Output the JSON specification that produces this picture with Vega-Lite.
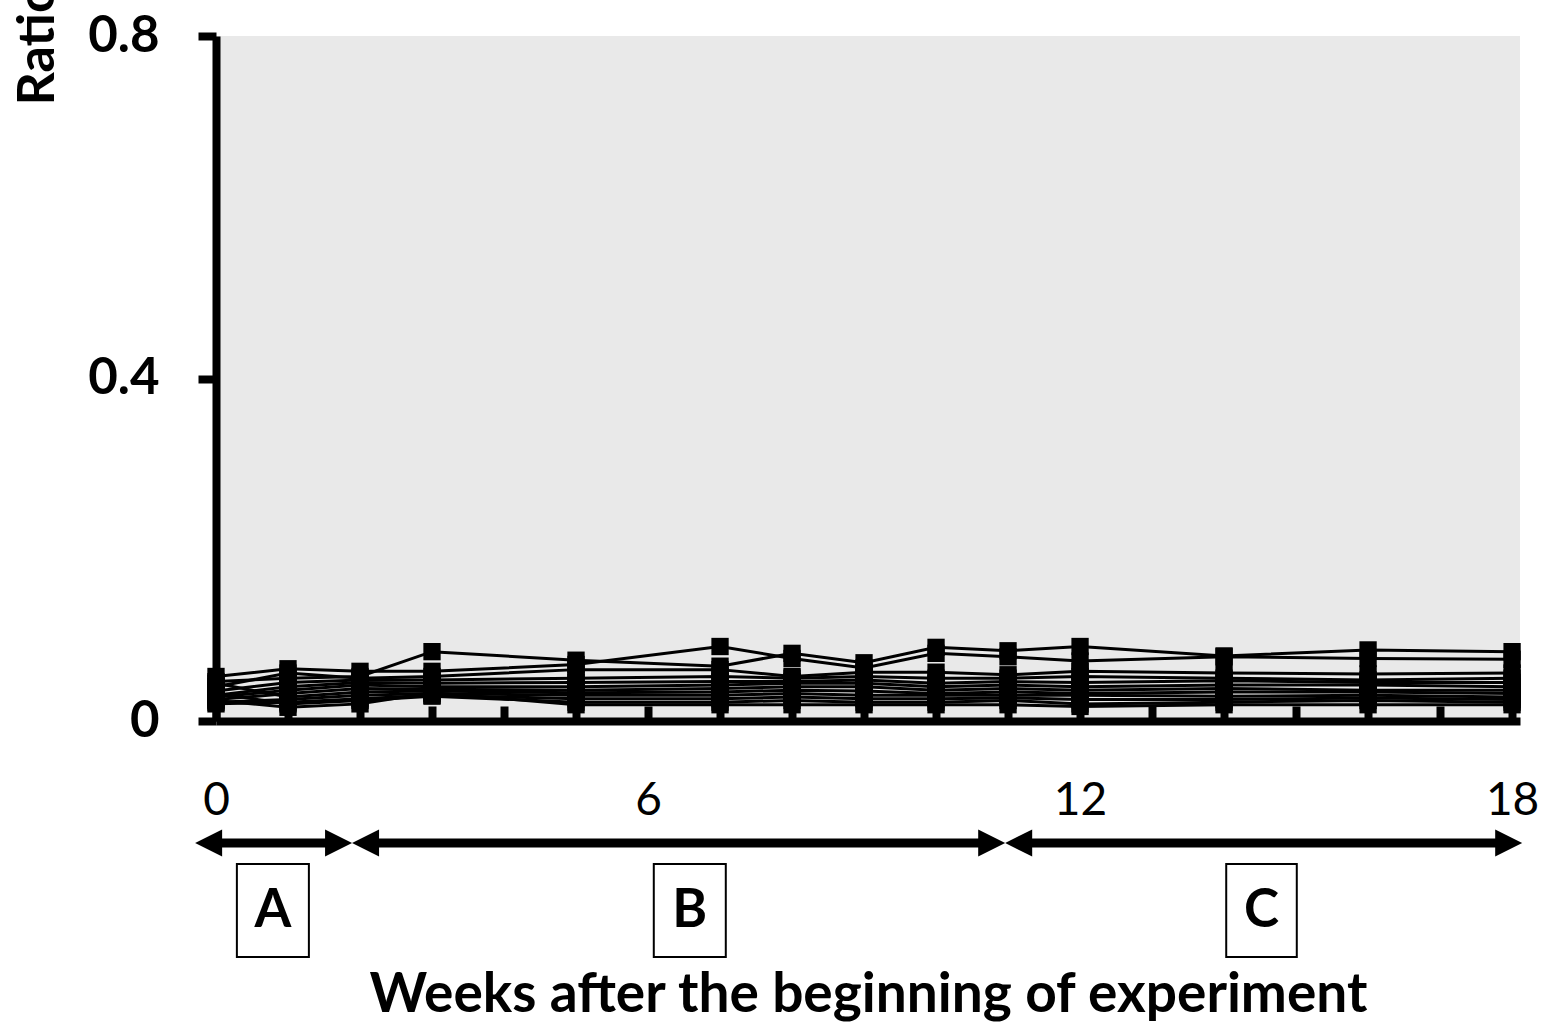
{
  "$schema": "https://vega.github.io/schema/vega-lite/v6.json",
  "autosize": {"type": "none"},
  "width": 1304,
  "height": 685,
  "padding": {"left": 216, "top": 36, "right": 22, "bottom": 301},
  "background": "white",
  "config": {
    "font": "Lato",
    "view": {"fill": "#e9e9e9", "stroke": null},
    "axis": {"domainColor": "black", "tickColor": "black", "labelColor": "black", "titleColor": "black", "grid": false}
  },
  "datasets": {
    "series": [
      {"week": 0, "s": "S1", "ratio": 0.046}, {"week": 1, "s": "S1", "ratio": 0.050}, {"week": 2, "s": "S1", "ratio": 0.052}, {"week": 3, "s": "S1", "ratio": 0.081}, {"week": 5, "s": "S1", "ratio": 0.071}, {"week": 7, "s": "S1", "ratio": 0.064}, {"week": 8, "s": "S1", "ratio": 0.079}, {"week": 9, "s": "S1", "ratio": 0.068}, {"week": 10, "s": "S1", "ratio": 0.086}, {"week": 11, "s": "S1", "ratio": 0.082}, {"week": 12, "s": "S1", "ratio": 0.087}, {"week": 14, "s": "S1", "ratio": 0.076}, {"week": 16, "s": "S1", "ratio": 0.083}, {"week": 18, "s": "S1", "ratio": 0.081},
      {"week": 0, "s": "S2", "ratio": 0.052}, {"week": 1, "s": "S2", "ratio": 0.061}, {"week": 2, "s": "S2", "ratio": 0.058}, {"week": 3, "s": "S2", "ratio": 0.058}, {"week": 5, "s": "S2", "ratio": 0.066}, {"week": 7, "s": "S2", "ratio": 0.087}, {"week": 8, "s": "S2", "ratio": 0.073}, {"week": 9, "s": "S2", "ratio": 0.062}, {"week": 10, "s": "S2", "ratio": 0.079}, {"week": 11, "s": "S2", "ratio": 0.075}, {"week": 12, "s": "S2", "ratio": 0.070}, {"week": 14, "s": "S2", "ratio": 0.075}, {"week": 16, "s": "S2", "ratio": 0.073}, {"week": 18, "s": "S2", "ratio": 0.072},
      {"week": 0, "s": "S3", "ratio": 0.040}, {"week": 1, "s": "S3", "ratio": 0.056}, {"week": 2, "s": "S3", "ratio": 0.050}, {"week": 3, "s": "S3", "ratio": 0.052}, {"week": 5, "s": "S3", "ratio": 0.060}, {"week": 7, "s": "S3", "ratio": 0.060}, {"week": 8, "s": "S3", "ratio": 0.052}, {"week": 9, "s": "S3", "ratio": 0.057}, {"week": 10, "s": "S3", "ratio": 0.057}, {"week": 11, "s": "S3", "ratio": 0.054}, {"week": 12, "s": "S3", "ratio": 0.058}, {"week": 14, "s": "S3", "ratio": 0.056}, {"week": 16, "s": "S3", "ratio": 0.055}, {"week": 18, "s": "S3", "ratio": 0.056},
      {"week": 0, "s": "S4", "ratio": 0.035}, {"week": 1, "s": "S4", "ratio": 0.045}, {"week": 2, "s": "S4", "ratio": 0.048}, {"week": 3, "s": "S4", "ratio": 0.048}, {"week": 5, "s": "S4", "ratio": 0.050}, {"week": 7, "s": "S4", "ratio": 0.052}, {"week": 8, "s": "S4", "ratio": 0.050}, {"week": 9, "s": "S4", "ratio": 0.052}, {"week": 10, "s": "S4", "ratio": 0.050}, {"week": 11, "s": "S4", "ratio": 0.050}, {"week": 12, "s": "S4", "ratio": 0.052}, {"week": 14, "s": "S4", "ratio": 0.050}, {"week": 16, "s": "S4", "ratio": 0.048}, {"week": 18, "s": "S4", "ratio": 0.050},
      {"week": 0, "s": "S5", "ratio": 0.030}, {"week": 1, "s": "S5", "ratio": 0.040}, {"week": 2, "s": "S5", "ratio": 0.045}, {"week": 3, "s": "S5", "ratio": 0.044}, {"week": 5, "s": "S5", "ratio": 0.045}, {"week": 7, "s": "S5", "ratio": 0.046}, {"week": 8, "s": "S5", "ratio": 0.046}, {"week": 9, "s": "S5", "ratio": 0.048}, {"week": 10, "s": "S5", "ratio": 0.044}, {"week": 11, "s": "S5", "ratio": 0.046}, {"week": 12, "s": "S5", "ratio": 0.045}, {"week": 14, "s": "S5", "ratio": 0.047}, {"week": 16, "s": "S5", "ratio": 0.045}, {"week": 18, "s": "S5", "ratio": 0.045},
      {"week": 0, "s": "S6", "ratio": 0.028}, {"week": 1, "s": "S6", "ratio": 0.036}, {"week": 2, "s": "S6", "ratio": 0.042}, {"week": 3, "s": "S6", "ratio": 0.040}, {"week": 5, "s": "S6", "ratio": 0.040}, {"week": 7, "s": "S6", "ratio": 0.042}, {"week": 8, "s": "S6", "ratio": 0.044}, {"week": 9, "s": "S6", "ratio": 0.044}, {"week": 10, "s": "S6", "ratio": 0.040}, {"week": 11, "s": "S6", "ratio": 0.042}, {"week": 12, "s": "S6", "ratio": 0.040}, {"week": 14, "s": "S6", "ratio": 0.042}, {"week": 16, "s": "S6", "ratio": 0.042}, {"week": 18, "s": "S6", "ratio": 0.040},
      {"week": 0, "s": "S7", "ratio": 0.025}, {"week": 1, "s": "S7", "ratio": 0.032}, {"week": 2, "s": "S7", "ratio": 0.038}, {"week": 3, "s": "S7", "ratio": 0.037}, {"week": 5, "s": "S7", "ratio": 0.036}, {"week": 7, "s": "S7", "ratio": 0.038}, {"week": 8, "s": "S7", "ratio": 0.040}, {"week": 9, "s": "S7", "ratio": 0.040}, {"week": 10, "s": "S7", "ratio": 0.036}, {"week": 11, "s": "S7", "ratio": 0.038}, {"week": 12, "s": "S7", "ratio": 0.036}, {"week": 14, "s": "S7", "ratio": 0.038}, {"week": 16, "s": "S7", "ratio": 0.036}, {"week": 18, "s": "S7", "ratio": 0.036},
      {"week": 0, "s": "S8", "ratio": 0.044}, {"week": 1, "s": "S8", "ratio": 0.028}, {"week": 2, "s": "S8", "ratio": 0.034}, {"week": 3, "s": "S8", "ratio": 0.035}, {"week": 5, "s": "S8", "ratio": 0.033}, {"week": 7, "s": "S8", "ratio": 0.034}, {"week": 8, "s": "S8", "ratio": 0.036}, {"week": 9, "s": "S8", "ratio": 0.035}, {"week": 10, "s": "S8", "ratio": 0.032}, {"week": 11, "s": "S8", "ratio": 0.034}, {"week": 12, "s": "S8", "ratio": 0.032}, {"week": 14, "s": "S8", "ratio": 0.034}, {"week": 16, "s": "S8", "ratio": 0.034}, {"week": 18, "s": "S8", "ratio": 0.032},
      {"week": 0, "s": "S9", "ratio": 0.022}, {"week": 1, "s": "S9", "ratio": 0.025}, {"week": 2, "s": "S9", "ratio": 0.030}, {"week": 3, "s": "S9", "ratio": 0.032}, {"week": 5, "s": "S9", "ratio": 0.030}, {"week": 7, "s": "S9", "ratio": 0.030}, {"week": 8, "s": "S9", "ratio": 0.032}, {"week": 9, "s": "S9", "ratio": 0.030}, {"week": 10, "s": "S9", "ratio": 0.030}, {"week": 11, "s": "S9", "ratio": 0.030}, {"week": 12, "s": "S9", "ratio": 0.030}, {"week": 14, "s": "S9", "ratio": 0.029}, {"week": 16, "s": "S9", "ratio": 0.030}, {"week": 18, "s": "S9", "ratio": 0.028},
      {"week": 0, "s": "S10", "ratio": 0.020}, {"week": 1, "s": "S10", "ratio": 0.022}, {"week": 2, "s": "S10", "ratio": 0.026}, {"week": 3, "s": "S10", "ratio": 0.030}, {"week": 5, "s": "S10", "ratio": 0.026}, {"week": 7, "s": "S10", "ratio": 0.026}, {"week": 8, "s": "S10", "ratio": 0.028}, {"week": 9, "s": "S10", "ratio": 0.026}, {"week": 10, "s": "S10", "ratio": 0.026}, {"week": 11, "s": "S10", "ratio": 0.027}, {"week": 12, "s": "S10", "ratio": 0.025}, {"week": 14, "s": "S10", "ratio": 0.025}, {"week": 16, "s": "S10", "ratio": 0.027}, {"week": 18, "s": "S10", "ratio": 0.025},
      {"week": 0, "s": "S11", "ratio": 0.032}, {"week": 1, "s": "S11", "ratio": 0.020}, {"week": 2, "s": "S11", "ratio": 0.024}, {"week": 3, "s": "S11", "ratio": 0.029}, {"week": 5, "s": "S11", "ratio": 0.022}, {"week": 7, "s": "S11", "ratio": 0.022}, {"week": 8, "s": "S11", "ratio": 0.024}, {"week": 9, "s": "S11", "ratio": 0.022}, {"week": 10, "s": "S11", "ratio": 0.022}, {"week": 11, "s": "S11", "ratio": 0.024}, {"week": 12, "s": "S11", "ratio": 0.020}, {"week": 14, "s": "S11", "ratio": 0.022}, {"week": 16, "s": "S11", "ratio": 0.024}, {"week": 18, "s": "S11", "ratio": 0.022},
      {"week": 0, "s": "S12", "ratio": 0.024}, {"week": 1, "s": "S12", "ratio": 0.016}, {"week": 2, "s": "S12", "ratio": 0.020}, {"week": 3, "s": "S12", "ratio": 0.033}, {"week": 5, "s": "S12", "ratio": 0.019}, {"week": 7, "s": "S12", "ratio": 0.019}, {"week": 8, "s": "S12", "ratio": 0.019}, {"week": 9, "s": "S12", "ratio": 0.019}, {"week": 10, "s": "S12", "ratio": 0.019}, {"week": 11, "s": "S12", "ratio": 0.019}, {"week": 12, "s": "S12", "ratio": 0.017}, {"week": 14, "s": "S12", "ratio": 0.019}, {"week": 16, "s": "S12", "ratio": 0.019}, {"week": 18, "s": "S12", "ratio": 0.019}
    ],
    "periods": [
      {"label": "A", "from": -0.29, "to": 1.89, "box1": 0.29, "box2": 1.29, "mid": 0.79},
      {"label": "B", "from": 1.89, "to": 10.96, "box1": 6.08, "box2": 7.08, "mid": 6.58},
      {"label": "C", "from": 10.96, "to": 18.14, "box1": 14.03, "box2": 15.01, "mid": 14.52}
    ]
  },
  "layer": [
    {
      "data": {"name": "series"},
      "mark": {"type": "line", "color": "black", "strokeWidth": 3},
      "encoding": {
        "x": {
          "field": "week", "type": "quantitative",
          "scale": {"domain": [0, 18.11], "nice": false, "zero": false},
          "axis": {
            "values": [0, 1, 2, 3, 4, 5, 6, 7, 8, 9, 10, 11, 12, 13, 14, 15, 16, 17, 18],
            "format": "d",
            "labelExpr": "datum.value % 6 === 0 ? datum.label : ''",
            "labelOverlap": false, "labelFlush": false,
            "domainWidth": 8, "tickWidth": 8, "tickSize": -15,
            "labelFontSize": 46, "labelFontWeight": "normal", "labelPadding": 72,
            "title": "Weeks after the beginning of experiment",
            "titleFontSize": 55, "titleFontWeight": "bold",
            "titleY": 290, "titleBaseline": "alphabetic"
          }
        },
        "y": {
          "field": "ratio", "type": "quantitative",
          "scale": {"domain": [0, 0.8], "nice": false},
          "axis": {
            "values": [0, 0.4, 0.8],
            "format": "~g",
            "labelOverlap": false, "labelFlush": false,
            "domainWidth": 8, "tickWidth": 8, "tickSize": 18,
            "labelFontSize": 51, "labelFontWeight": "bold", "labelPadding": 39,
            "title": "Ratio", "titleFontSize": 52, "titleFontWeight": "bold",
            "titleAngle": 270, "titleAlign": "left", "titleBaseline": "alphabetic",
            "titleX": -163, "titleY": 69
          }
        },
        "detail": {"field": "s"}
      }
    },
    {
      "data": {"name": "series"},
      "mark": {"type": "point", "shape": "square", "filled": true, "color": "black", "opacity": 1, "size": 300},
      "encoding": {
        "x": {"field": "week", "type": "quantitative"},
        "y": {"field": "ratio", "type": "quantitative"}
      }
    },
    {
      "data": {"name": "periods"},
      "mark": {"type": "rule", "color": "black", "strokeWidth": 9, "xOffset": 20, "x2Offset": -20},
      "encoding": {
        "x": {"field": "from", "type": "quantitative"},
        "x2": {"field": "to"},
        "y": {"datum": -0.1425, "type": "quantitative"}
      }
    },
    {
      "data": {"name": "periods"},
      "mark": {"type": "point", "shape": "M0,0L2,-1L2,1Z", "filled": true, "color": "black", "opacity": 1, "size": 729, "strokeWidth": 0},
      "encoding": {
        "x": {"field": "from", "type": "quantitative"},
        "y": {"datum": -0.1425, "type": "quantitative"}
      }
    },
    {
      "data": {"name": "periods"},
      "mark": {"type": "point", "shape": "M0,0L-2,-1L-2,1Z", "filled": true, "color": "black", "opacity": 1, "size": 729, "strokeWidth": 0},
      "encoding": {
        "x": {"field": "to", "type": "quantitative"},
        "y": {"datum": -0.1425, "type": "quantitative"}
      }
    },
    {
      "data": {"name": "periods"},
      "mark": {"type": "rect", "fill": "white", "stroke": "black", "strokeWidth": 2},
      "encoding": {
        "x": {"field": "box1", "type": "quantitative"},
        "x2": {"field": "box2"},
        "y": {"datum": -0.167, "type": "quantitative"},
        "y2": {"datum": -0.2756}
      }
    },
    {
      "data": {"name": "periods"},
      "mark": {"type": "text", "color": "black", "fontSize": 53, "fontWeight": "bold", "align": "center", "baseline": "middle"},
      "encoding": {
        "x": {"field": "mid", "type": "quantitative"},
        "y": {"datum": -0.2219, "type": "quantitative"},
        "text": {"field": "label"}
      }
    }
  ]
}
